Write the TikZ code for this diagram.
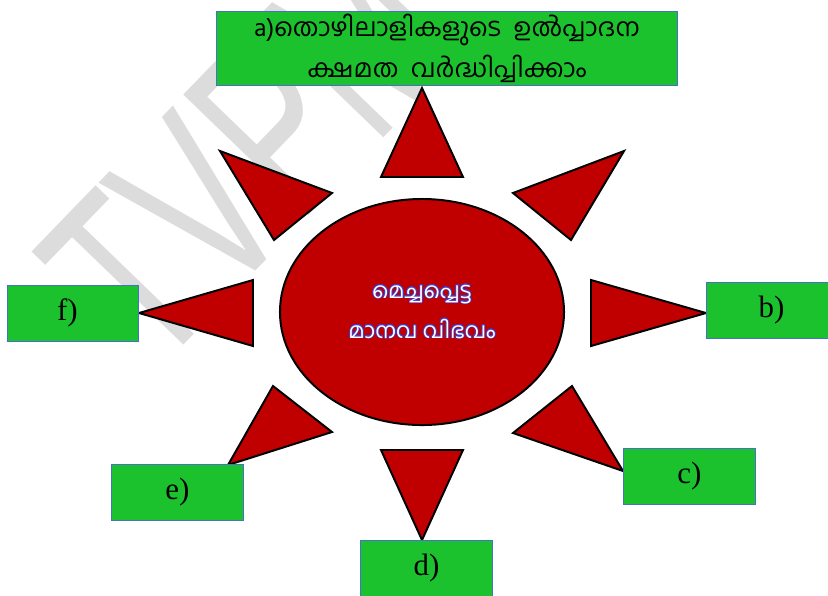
\documentclass[tikz,border=0pt]{standalone}
\usepackage{fontspec}
\usepackage{contour}
\usetikzlibrary{positioning,shapes.geometric}
\setmainfont{Liberation Serif}
\newfontfamily\malfont[Script=Malayalam]{Hind Kochi}
\newfontfamily\markfont{Liberation Sans}
\definecolor{HRgreen}{RGB}{28,194,46}
\definecolor{HRblue}{RGB}{68,114,196}
\definecolor{HRred}{RGB}{192,0,0}
\definecolor{HRmark}{RGB}{220,220,220}
\definecolor{HRink}{RGB}{62,62,205}
\contourlength{0.45pt}
\tikzset{
  answer/.style={draw=HRblue,line width=0.7pt,fill=HRgreen,inner sep=0pt,
                 minimum width=3.275cm,minimum height=1.4cm,
                 font=\fontsize{22}{26}\selectfont},
  topbox/.style={answer,minimum width=11.5cm,minimum height=1.85cm,align=center,
                 font=\malfont\fontsize{18}{29}\selectfont},
  core/.style={ellipse,draw=black,line width=1.4pt,fill=HRred,text=white,
               minimum width=7.1cm,minimum height=5.65cm,inner sep=0pt,align=center,
               font=\malfont\fontsize{15.5}{28.5}\selectfont},
  ray/.style={draw=black,line width=1.4pt,fill=HRred,line join=miter},
  watermark/.style={text=HRmark,inner sep=0pt,font=\markfont\fontsize{116}{116}\selectfont}
}

\begin{document}
\begin{tikzpicture}[x=0.025cm,y=-0.025cm]
  \useasboundingbox (0,0) rectangle (828,595);
  \clip (0,0) rectangle (828,595);
  % watermark behind everything
  \node[watermark,anchor=base west,rotate=46] (mark) at (154,376) {\scalebox{1}[1.55]{TVPM}};
  % centre
  \node[core] (hub) at (422,312) {\contour{HRink}{മെച്ചപ്പെട്ട}\\\contour{HRink}{മാനവ വിഭവം}};
  % rays
  \draw[ray] (422,88) -- (463,177) -- (381,177) -- cycle;
  \draw[ray] (624,151) -- (513,193) -- (571,240) -- cycle;
  \draw[ray] (706,313) -- (591,280) -- (591,346) -- cycle;
  \draw[ray] (623,471) -- (572,386) -- (513,433) -- cycle;
  \draw[ray] (422,540) -- (381,450) -- (463,450) -- cycle;
  \draw[ray] (228,465) -- (273,386) -- (332,432) -- cycle;
  \draw[ray] (139,313) -- (253,280) -- (253,346) -- cycle;
  \draw[ray] (220,151) -- (332,193) -- (274,240) -- cycle;
  % answer boxes
  \node[topbox] (a) at (447,48) {a)തൊഴിലാളികളുടെ\ \ ഉൽപ്പാദന\\ക്ഷമത\ \ വർദ്ധിപ്പിക്കാം};
  \node[answer] (b) at (771.5,310) {\raisebox{-2pt}{b)}};
  \node[answer] (c) at (689.5,476) {\raisebox{-2pt}{c)}};
  \node[answer] (d) at (426.5,568) {\raisebox{-2pt}{d)}};
  \node[answer] (e) at (177.5,492) {\raisebox{-2pt}{e)}};
  \node[answer,minimum width=3.25cm] (f) at (73,313) {\raisebox{-3pt}{f)\hspace{8pt}}};
\end{tikzpicture}
\end{document}
